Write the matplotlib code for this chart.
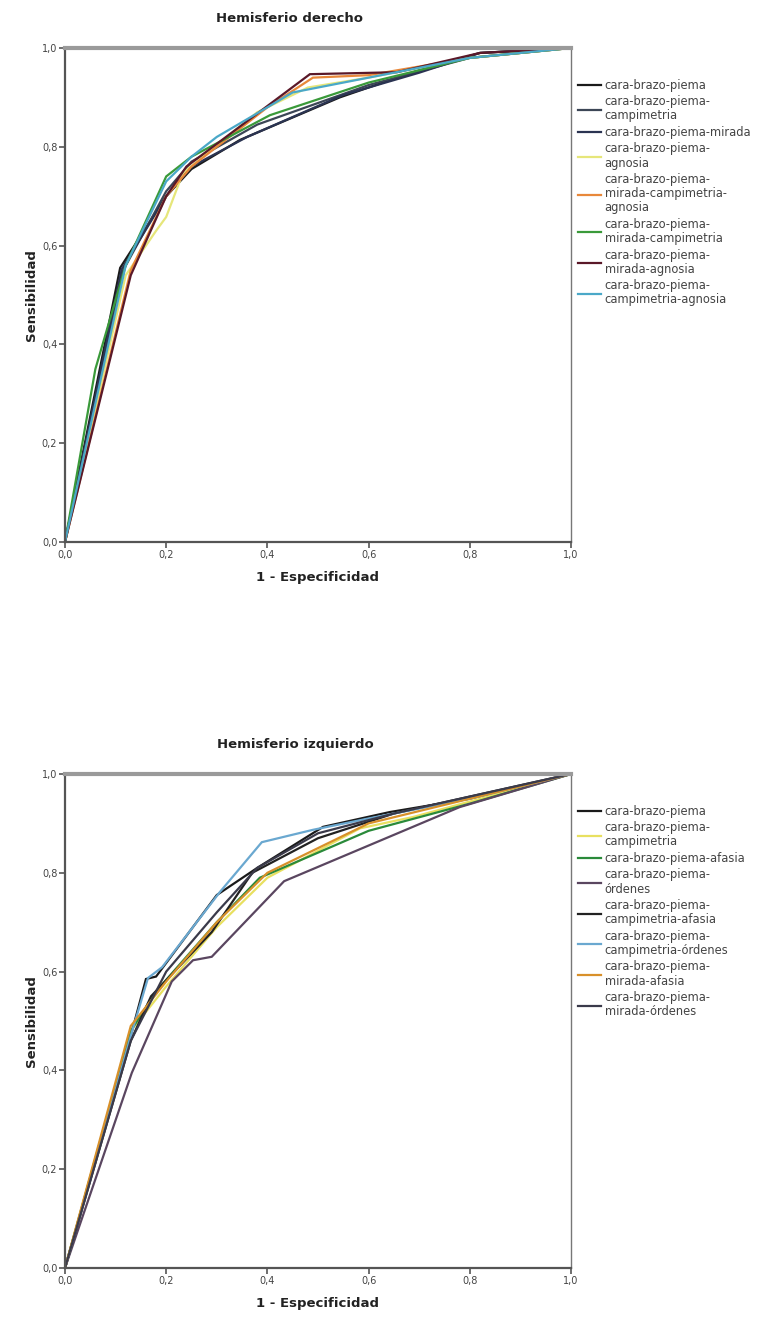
import matplotlib
matplotlib.use("Agg")
import matplotlib.pyplot as plt

# ---------------- Data: Hemisferio derecho ----------------
right_labels = [
    "cara-brazo-piema",
    "cara-brazo-piema-\ncampimetria",
    "cara-brazo-piema-mirada",
    "cara-brazo-piema-\nagnosia",
    "cara-brazo-piema-\nmirada-campimetria-\nagnosia",
    "cara-brazo-piema-\nmirada-campimetria",
    "cara-brazo-piema-\nmirada-agnosia",
    "cara-brazo-piema-\ncampimetria-agnosia",
]
right_colors = ["#1a1a1a", "#3c4656", "#2b3452", "#e6e67a", "#e8883a",
                "#3a9a3a", "#5a1828", "#4aa8c8"]

r_fpr_1 = [0, 0.109, 0.20, 0.25, 0.346, 0.543, 0.688, 0.82, 1.0]
r_tpr_1 = [0, 0.555, 0.70, 0.755, 0.814, 0.900, 0.951, 0.99, 1.0]
r_fpr_2 = [0, 0.115, 0.20, 0.25, 0.38, 0.60, 0.80, 1.0]
r_tpr_2 = [0, 0.550, 0.71, 0.77, 0.845, 0.925, 0.98, 1.0]
r_fpr_3 = [0, 0.112, 0.20, 0.25, 0.36, 0.55, 0.70, 0.82, 1.0]
r_tpr_3 = [0, 0.552, 0.70, 0.76, 0.820, 0.905, 0.95, 0.99, 1.0]
r_fpr_4 = [0, 0.12, 0.18, 0.20, 0.233, 0.38, 0.48, 0.60, 0.80, 1.0]
r_tpr_4 = [0, 0.54, 0.63, 0.658, 0.747, 0.87, 0.92, 0.94, 0.98, 1.0]
r_fpr_5 = [0, 0.13, 0.20, 0.25, 0.40, 0.49, 0.60, 0.80, 1.0]
r_tpr_5 = [0, 0.55, 0.70, 0.76, 0.88, 0.94, 0.945, 0.98, 1.0]
r_fpr_6 = [0, 0.06, 0.12, 0.20, 0.25, 0.405, 0.60, 0.80, 1.0]
r_tpr_6 = [0, 0.35, 0.56, 0.74, 0.78, 0.864, 0.93, 0.98, 1.0]
r_fpr_7 = [0, 0.13, 0.20, 0.24, 0.484, 0.656, 0.82, 1.0]
r_tpr_7 = [0, 0.54, 0.70, 0.76, 0.947, 0.951, 0.99, 1.0]
r_fpr_8 = [0, 0.12, 0.20, 0.25, 0.30, 0.45, 0.60, 0.80, 1.0]
r_tpr_8 = [0, 0.56, 0.73, 0.78, 0.82, 0.91, 0.94, 0.98, 1.0]

# ---------------- Data: Hemisferio izquierdo ----------------
left_labels = [
    "cara-brazo-piema",
    "cara-brazo-piema-\ncampimetria",
    "cara-brazo-piema-afasia",
    "cara-brazo-piema-\nórdenes",
    "cara-brazo-piema-\ncampimetria-afasia",
    "cara-brazo-piema-\ncampimetria-órdenes",
    "cara-brazo-piema-\nmirada-afasia",
    "cara-brazo-piema-\nmirada-órdenes",
]
left_colors = ["#1a1a1a", "#e8e060", "#2a8a3a", "#5a4660", "#222222",
               "#6aa8d0", "#d8902a", "#3a3a4a"]

l_fpr_1 = [0, 0.13, 0.16, 0.18, 0.30, 0.38, 0.51, 0.642, 0.80, 1.0]
l_tpr_1 = [0, 0.47, 0.585, 0.59, 0.755, 0.81, 0.893, 0.923, 0.95, 1.0]
l_fpr_2 = [0, 0.13, 0.20, 0.30, 0.40, 0.583, 0.688, 1.0]
l_tpr_2 = [0, 0.48, 0.57, 0.69, 0.79, 0.89, 0.913, 1.0]
l_fpr_3 = [0, 0.13, 0.18, 0.30, 0.385, 0.60, 0.80, 1.0]
l_tpr_3 = [0, 0.48, 0.56, 0.70, 0.79, 0.885, 0.94, 1.0]
l_fpr_4 = [0, 0.132, 0.211, 0.253, 0.29, 0.433, 0.78, 1.0]
l_tpr_4 = [0, 0.395, 0.58, 0.623, 0.63, 0.783, 0.933, 1.0]
l_fpr_5 = [0, 0.13, 0.17, 0.29, 0.37, 0.50, 0.65, 1.0]
l_tpr_5 = [0, 0.46, 0.55, 0.68, 0.80, 0.87, 0.92, 1.0]
l_fpr_6 = [0, 0.13, 0.164, 0.192, 0.306, 0.389, 0.49, 0.60, 0.80, 1.0]
l_tpr_6 = [0, 0.47, 0.587, 0.609, 0.761, 0.862, 0.887, 0.91, 0.95, 1.0]
l_fpr_7 = [0, 0.13, 0.20, 0.30, 0.40, 0.60, 0.80, 1.0]
l_tpr_7 = [0, 0.49, 0.58, 0.70, 0.80, 0.90, 0.95, 1.0]
l_fpr_8 = [0, 0.13, 0.20, 0.30, 0.38, 0.50, 0.65, 1.0]
l_tpr_8 = [0, 0.46, 0.60, 0.72, 0.81, 0.88, 0.92, 1.0]

tick_vals = [0.0, 0.2, 0.4, 0.6, 0.8, 1.0]
tick_labels = ["0,0", "0,2", "0,4", "0,6", "0,8", "1,0"]

right_series = [(r_fpr_1, r_tpr_1), (r_fpr_2, r_tpr_2), (r_fpr_3, r_tpr_3),
                (r_fpr_4, r_tpr_4), (r_fpr_5, r_tpr_5), (r_fpr_6, r_tpr_6),
                (r_fpr_7, r_tpr_7), (r_fpr_8, r_tpr_8)]
left_series = [(l_fpr_1, l_tpr_1), (l_fpr_2, l_tpr_2), (l_fpr_3, l_tpr_3),
               (l_fpr_4, l_tpr_4), (l_fpr_5, l_tpr_5), (l_fpr_6, l_tpr_6),
               (l_fpr_7, l_tpr_7), (l_fpr_8, l_tpr_8)]

W, H = 766, 1317
fig = plt.figure(figsize=(W / 100, H / 100), dpi=100)
fig.patch.set_facecolor("white")


def make_panel(rect, title, series, labels, colors, title_x):
    ax = fig.add_axes(rect)
    for (x, y), lab, c in zip(series, labels, colors):
        ax.plot(x, y, color=c, lw=1.6, label=lab, solid_joinstyle="miter")
    ax.set_xlim(0, 1)
    ax.set_ylim(0, 1)
    ax.set_xticks(tick_vals)
    ax.set_xticklabels(tick_labels)
    ax.set_yticks(tick_vals)
    ax.set_yticklabels(tick_labels)
    ax.tick_params(labelsize=7, colors="#555555", length=4, width=1.2,
                   labelcolor="#444444", pad=1.5)
    for s in ["left", "bottom"]:
        ax.spines[s].set_color("#555555")
        ax.spines[s].set_linewidth(1.6)
    ax.spines["top"].set_color("#9a9a9a")
    ax.spines["top"].set_linewidth(3)
    ax.spines["right"].set_color("#777777")
    ax.spines["right"].set_linewidth(1.0)
    ax.set_xlabel("1 - Especificidad", fontsize=9.5, fontweight="bold",
                  color="#222222", labelpad=8)
    ax.set_ylabel("Sensibilidad", fontsize=9.5, fontweight="bold",
                  color="#222222", labelpad=3)
    pos = ax.get_position()
    fig.text(title_x / W, pos.y1 + 30 / H, title, fontsize=9.5,
             fontweight="bold", ha="center", va="center", color="#222222")
    leg = ax.legend(loc="upper left", bbox_to_anchor=(1.005, 0.947),
                    frameon=False, fontsize=8.3, handlelength=2.0,
                    handletextpad=0.3, labelspacing=0.3,
                    borderaxespad=0.0)
    for t in leg.get_texts():
        t.set_color("#444444")
        t.set_linespacing(1.12)
    return ax


axw = 506 / W
axh = 494 / H
make_panel([65 / W, 1 - 542 / H, axw, axh], "Hemisferio derecho",
           right_series, right_labels, right_colors, 290)
make_panel([65 / W, 1 - 1268 / H, axw, axh], "Hemisferio izquierdo",
           left_series, left_labels, left_colors, 295)

fig.savefig("out.png", dpi=100, facecolor="white")
